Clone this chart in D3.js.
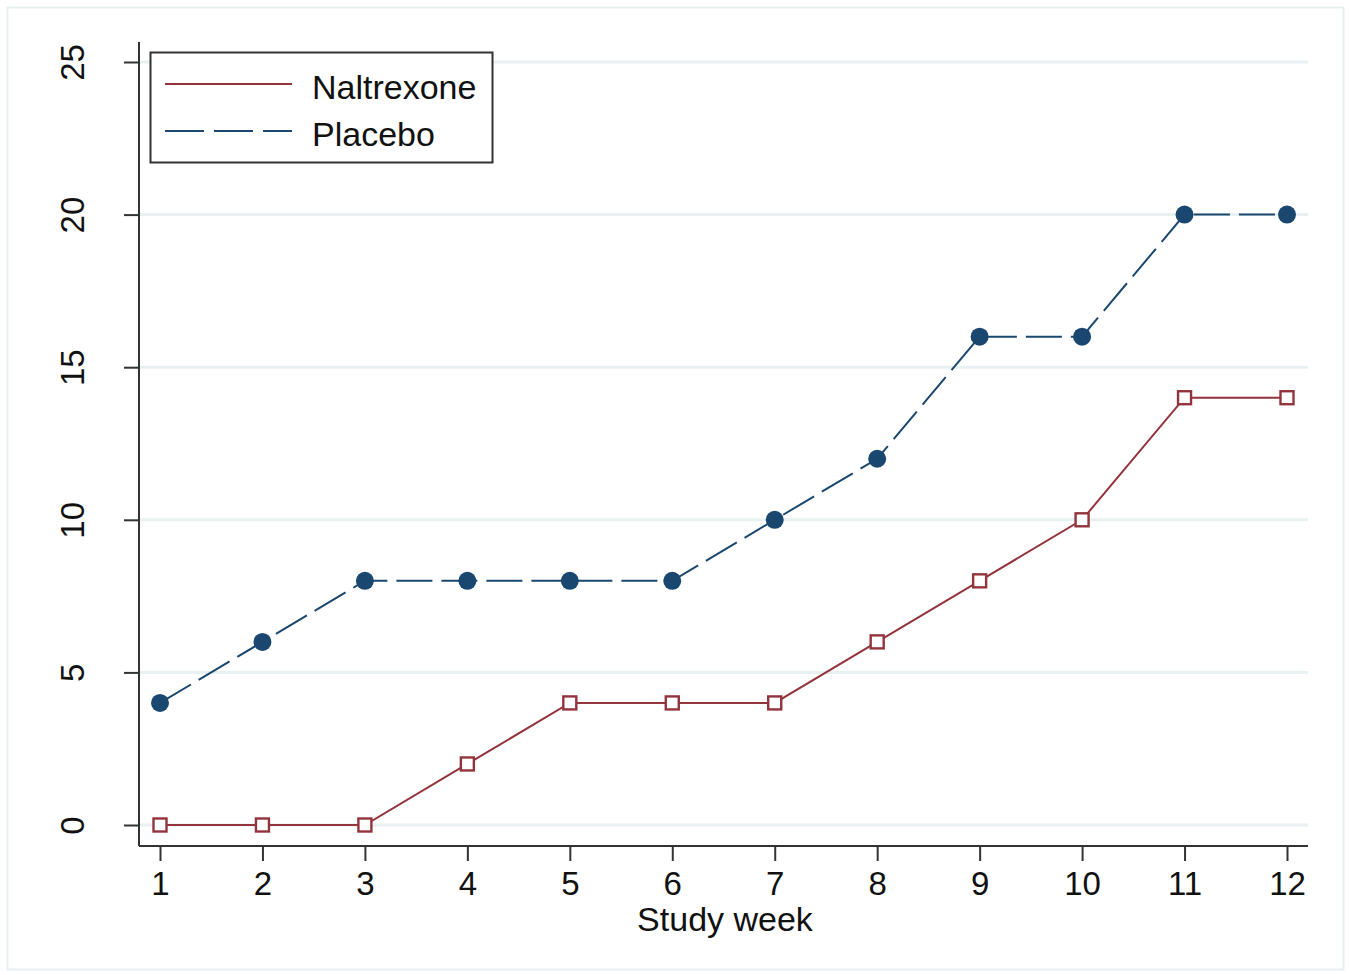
<!DOCTYPE html>
<html lang="en">
<head>
    <meta charset="UTF-8">
    <title>Study week chart</title>
    <style>
        body { margin: 0; background: #ffffff; font-family: Arial, "Liberation Sans", sans-serif; }
        svg { display: block; }
    </style>
</head>
<body>
<div id="chart"></div>
<script src="https://d3js.org/d3.v7.min.js"></script>
<script>
    // Data
    const weeks = [1, 2, 3, 4, 5, 6, 7, 8, 9, 10, 11, 12];
    const naltrexone = [0, 0, 0, 2, 4, 4, 4, 6, 8, 10, 14, 14];
    const placebo = [4, 6, 8, 8, 8, 8, 10, 12, 16, 16, 20, 20];
    const yTicks = [0, 5, 10, 15, 20, 25];
    const seriesNames = ["Naltrexone", "Placebo"];

    const width = 1349, height = 975;
    const red = "#93343c", navy = "#1a476f";

    const svg = d3.select("#chart").append("svg")
        .attr("width", width)
        .attr("height", height);

    // outer frame
    svg.append("rect")
        .attr("x", 7.5).attr("y", 7.5)
        .attr("width", 1336).attr("height", 962)
        .attr("fill", "#fff")
        .attr("stroke", "#e6eff0")
        .attr("stroke-width", 2);

    const x = d3.scaleLinear().domain([1, 12]).range([160, 1287]);
    const y = d3.scaleLinear().domain([0, 25]).range([825, 62]);

    // gridlines
    svg.append("g").selectAll("line")
        .data(yTicks)
        .enter().append("line")
        .attr("x1", 139).attr("x2", 1308)
        .attr("y1", d => y(d)).attr("y2", d => y(d))
        .attr("stroke", "#e8f0f1")
        .attr("stroke-width", 3);

    // y axis
    const yAxis = svg.append("g")
        .attr("transform", "translate(139,0)")
        .call(d3.axisLeft(y).tickValues(yTicks).tickSize(15).tickPadding(0).tickFormat(d3.format("d")));
    yAxis.select(".domain").attr("d", "M0,42V846").attr("stroke", "#333").attr("stroke-width", 2);
    yAxis.selectAll(".tick line").attr("stroke", "#333").attr("stroke-width", 2);
    yAxis.selectAll(".tick text")
        .attr("x", null)
        .attr("transform", "translate(-67,0) rotate(-90)")
        .attr("text-anchor", "middle")
        .attr("dy", "0.35em")
        .style("font-size", "33px")
        .style("font-family", "Arial, 'Liberation Sans', sans-serif")
        .attr("fill", "#111");

    // x axis
    const xAxis = svg.append("g")
        .attr("transform", "translate(0,846)")
        .call(d3.axisBottom(x).tickValues(weeks).tickSize(15).tickPadding(11).tickFormat(d3.format("d")));
    xAxis.select(".domain").attr("d", "M139,0H1308").attr("stroke", "#333").attr("stroke-width", 2);
    xAxis.selectAll(".tick line").attr("stroke", "#333").attr("stroke-width", 2);
    xAxis.selectAll(".tick text")
        .style("font-size", "33px")
        .style("font-family", "Arial, 'Liberation Sans', sans-serif")
        .attr("fill", "#111");

    svg.append("text")
        .attr("x", 725).attr("y", 931)
        .attr("text-anchor", "middle")
        .style("font-size", "34px")
        .attr("fill", "#111")
        .text("Study week");

    const line = d3.line().x((d, i) => x(weeks[i])).y(d => y(d));

    // placebo series
    svg.append("path")
        .datum(placebo)
        .attr("d", line)
        .attr("fill", "none")
        .attr("stroke", navy)
        .attr("stroke-width", 2)
        .attr("stroke-dasharray", "36,9");

    svg.append("g").selectAll("circle")
        .data(placebo)
        .enter().append("circle")
        .attr("cx", (d, i) => x(weeks[i]))
        .attr("cy", d => y(d))
        .attr("r", 9)
        .attr("fill", navy);

    // naltrexone series
    svg.append("path")
        .datum(naltrexone)
        .attr("d", line)
        .attr("fill", "none")
        .attr("stroke", red)
        .attr("stroke-width", 2);

    svg.append("g").selectAll("rect")
        .data(naltrexone)
        .enter().append("rect")
        .attr("x", (d, i) => x(weeks[i]) - 6.5)
        .attr("y", d => y(d) - 6.5)
        .attr("width", 13).attr("height", 13)
        .attr("fill", "#fff")
        .attr("stroke", red)
        .attr("stroke-width", 2.4);

    // legend
    const legend = svg.append("g");
    legend.append("rect")
        .attr("x", 150.5).attr("y", 52.5)
        .attr("width", 342).attr("height", 110)
        .attr("fill", "#fff")
        .attr("stroke", "#333")
        .attr("stroke-width", 2);

    const legendStyles = [
        { color: red, dash: null },
        { color: navy, dash: "39,10" }
    ];
    seriesNames.forEach((name, i) => {
        const ly = 84 + i * 47;
        legend.append("line")
            .attr("x1", 165).attr("x2", 292)
            .attr("y1", ly).attr("y2", ly)
            .attr("stroke", legendStyles[i].color)
            .attr("stroke-width", 2)
            .attr("stroke-dasharray", legendStyles[i].dash);
        legend.append("text")
            .attr("x", 312).attr("y", ly + 3)
            .attr("dy", "0.35em")
            .style("font-size", "34px")
            .attr("fill", "#111")
            .text(name);
    });
</script>
</body>
</html>
